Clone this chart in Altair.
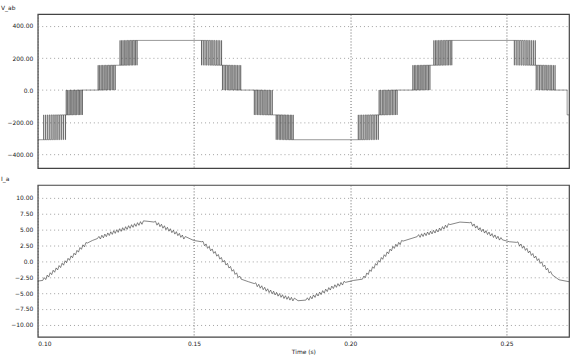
import numpy as np
import pandas as pd
import altair as alt

# ---------------- V_ab : stepped line voltage with PWM transition bands ----------------
v_initial = -310.0
# switching bands: start / end time, the two levels the output toggles between, direction
band_t0 = [0.1016, 0.1089, 0.1191, 0.1261, 0.1524, 0.1591, 0.1693, 0.1763,
           0.2023, 0.2090, 0.2198, 0.2265, 0.2525, 0.2595]
band_t1 = [0.1089, 0.1143, 0.1248, 0.1318, 0.1591, 0.1652, 0.1753, 0.1820,
           0.2090, 0.2150, 0.2255, 0.2325, 0.2595, 0.2658]
band_lo = [-310, -155, 0, 155, 155, 0, -155, -310, -310, -155, 0, 155, 155, 0]
band_hi = [-155, 0, 155, 310, 310, 155, 0, -155, -155, 0, 155, 310, 310, 155]
band_up = [True, True, True, True, False, False, False, False,
           True, True, True, True, False, False]
# duty of the upper level over the carrier periods of a rising band
duty_rising = [0.07, 0.15, 0.23, 0.31, 0.39, 0.47, 0.54, 0.62, 0.70, 0.78, 0.86, 0.93]
# last step at the right edge
v_last_t = 0.2694
v_last_level = -155.0
t_end = 0.270

# ---------------- I_a : phase current ----------------
cur_t = [0.1000, 0.1016, 0.1048, 0.1079, 0.1111, 0.1143, 0.1159, 0.1175, 0.1191,
         0.1238, 0.1286, 0.1334, 0.1356, 0.1372, 0.1416, 0.1445, 0.1470, 0.1499,
         0.1524, 0.1566, 0.1610, 0.1651, 0.1674, 0.1693, 0.1737, 0.1788, 0.1833,
         0.1858, 0.1906, 0.1947, 0.1985, 0.2011, 0.2039, 0.2096, 0.2138, 0.2169,
         0.2214, 0.2277, 0.2319, 0.2351, 0.2382, 0.2414, 0.2455, 0.2487, 0.2509,
         0.2532, 0.2563, 0.2605, 0.2646, 0.2668, 0.2700]
cur_a = [-3.1, -3.0, -1.7, -0.5, 0.8, 2.3, 2.9, 3.3, 3.6,
         4.5, 5.3, 6.1, 6.3, 6.2, 5.1, 4.4, 3.7, 3.3,
         3.1, 1.4, -0.7, -2.8, -3.2, -3.5, -4.6, -5.6, -6.2,
         -6.1, -5.0, -4.0, -3.3, -3.0, -2.8, 0.2, 2.2, 3.2,
         3.9, 4.8, 5.8, 6.2, 6.1, 5.1, 4.1, 3.4, 3.1,
         3.0, 1.9, 0.1, -2.1, -2.9, -3.2]
# intervals where the switching ripple rides on the current
ripple_t0 = [0.1016, 0.1191, 0.1372, 0.1524, 0.1693, 0.1858, 0.2039, 0.2214, 0.2382, 0.2532]
ripple_t1 = [0.1159, 0.1343, 0.1477, 0.1651, 0.1826, 0.1985, 0.2169, 0.2319, 0.2487, 0.2646]
ripple_teeth = [15, 16, 11, 13, 14, 13, 14, 11, 11, 12]
ripple_amp = 0.25

# ---------------- build traces ----------------
vt, vv = [0.100], [v_initial]
level = v_initial
for t0, t1, lo, hi, up in zip(band_t0, band_t1, band_lo, band_hi, band_up):
    duties = duty_rising if up else duty_rising[::-1]
    n = len(duties)
    period = (t1 - t0) / n
    vt += [t0, t0]
    vv += [level, lo]
    for k, d in enumerate(duties):
        on = t0 + k * period + (1 - d) * period / 2
        off = on + d * period
        vt += [on, on, off, off]
        vv += [lo, hi, hi, lo]
    level = hi if up else lo
    vt += [t1, t1]
    vv += [lo, level]
vt += [v_last_t, v_last_t, t_end]
vv += [level, v_last_level, v_last_level]
vdf = pd.DataFrame({"t": vt, "v": vv, "i": np.arange(len(vt))})

env_t = np.array(cur_t)
env_a = np.array(cur_a)
pts = []
for t, a in zip(env_t, env_a):
    inside = any(r0 < t < r1 for r0, r1 in zip(ripple_t0, ripple_t1))
    if not inside:
        pts.append((t, a))
for r0, r1, n in zip(ripple_t0, ripple_t1, ripple_teeth):
    tt = np.linspace(r0, r1, 2 * n + 1)
    for j, t in enumerate(tt[1:-1]):
        sign = 1 if j % 2 == 0 else -1
        pts.append((t, np.interp(t, env_t, env_a) + sign * ripple_amp))
pts.sort()
idf = pd.DataFrame(pts, columns=["t", "a"])
idf["i"] = np.arange(len(idf))

# ---------------- chart ----------------
FONT = "DejaVu Sans"
x_scale = alt.Scale(domain=[0.10, 0.27], nice=False, zero=False)
x_ticks = [0.10, 0.15, 0.20, 0.25]
label_expr = "datum.value == 0 ? '0.0' : format(datum.value, '.2f')"


def y_axis(values):
    return alt.Axis(values=values, labelExpr=label_expr, ticks=False, domain=False,
                    title=None, grid=True, gridDash=[1, 3], gridColor="#8a8a8a",
                    gridWidth=0.8, labelFontSize=6, labelFont=FONT, labelColor="#222",
                    labelPadding=5, minExtent=35, maxExtent=35)


top = alt.Chart(vdf).mark_line(color="#333", strokeWidth=0.5, clip=True).encode(
    x=alt.X("t:Q", scale=x_scale,
            axis=alt.Axis(values=x_ticks, labels=False, ticks=False, domain=False,
                          title=None, grid=True, gridDash=[1, 2], gridColor="#666")),
    y=alt.Y("v:Q", scale=alt.Scale(domain=[-487, 474], nice=False, zero=False),
            axis=y_axis([-400, -200, 0, 200, 400])),
    order="i:Q",
).properties(width=535, height=155,
             title=alt.TitleParams("V_ab", anchor="start", fontSize=6, font=FONT,
                                   fontWeight="normal", color="#222", offset=3, dx=-2))

bottom = alt.Chart(idf).mark_line(color="#333", strokeWidth=0.6, clip=True).encode(
    x=alt.X("t:Q", scale=x_scale,
            axis=alt.Axis(values=x_ticks, format=".2f", ticks=False, domain=False,
                          title="Time (s)", titleFontSize=6, titleFont=FONT,
                          titleFontWeight="normal", titleColor="#222", titlePadding=2,
                          labelFontSize=6, labelFont=FONT, labelColor="#222",
                          labelPadding=4, grid=True, gridDash=[1, 2], gridColor="#666")),
    y=alt.Y("a:Q", scale=alt.Scale(domain=[-11.9, 12.05], nice=False, zero=False),
            axis=y_axis([-10, -7.5, -5, -2.5, 0, 2.5, 5, 7.5, 10])),
    order="i:Q",
).properties(width=535, height=153,
             title=alt.TitleParams("I_a", anchor="start", fontSize=6, font=FONT,
                                   fontWeight="normal", color="#222", offset=3, dx=-2))

chart = alt.vconcat(top, bottom, spacing=6).properties(
    padding={"left": 0, "top": 3, "right": 0, "bottom": 0},
    background="white",
).configure_view(stroke="#444", strokeWidth=1.2)

chart.save("out.html", embed_options={"renderer": "svg", "actions": False})
